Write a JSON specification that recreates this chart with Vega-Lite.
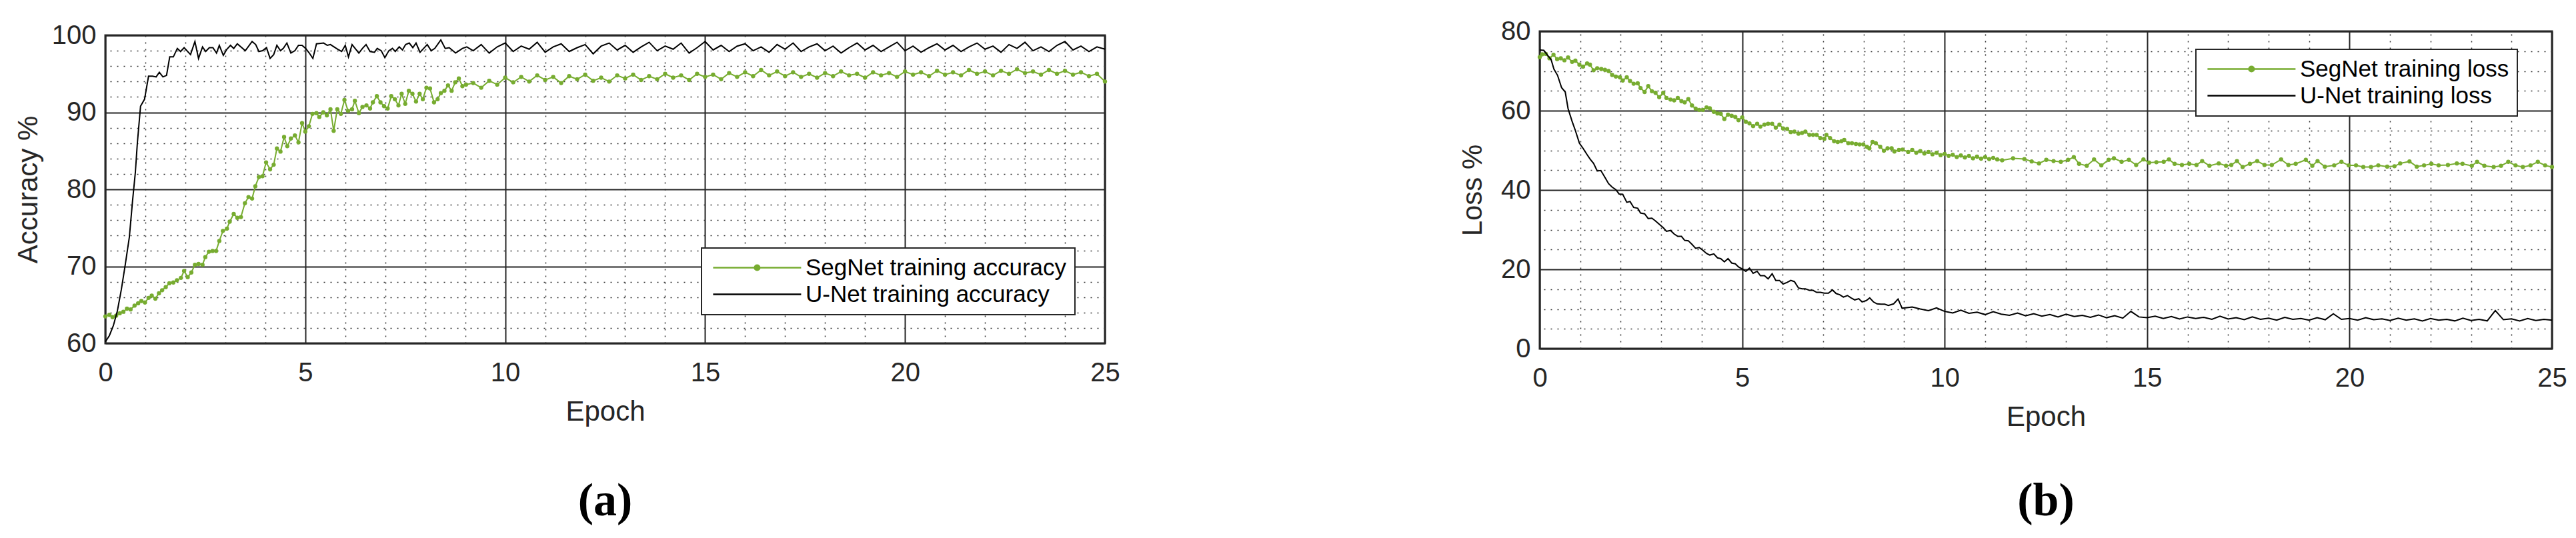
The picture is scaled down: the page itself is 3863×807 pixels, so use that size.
{
  "$schema": "https://vega.github.io/schema/vega-lite/v6.json",
  "background": "white",
  "padding": {"left": 19, "top": 25, "right": 0, "bottom": 0},
  "spacing": 505,
  "config": {
    "view": {"stroke": "#262626", "strokeWidth": 3},
    "font": "Liberation Sans",
    "axis": {"labelFont": "Liberation Sans", "labelFontSize": 40, "labelColor": "#262626", "titleFont": "Liberation Sans", "titleFontSize": 42, "titleFontWeight": "normal", "titleColor": "#262626", "labelFlush": false},
    "legend": {"labelFont": "Liberation Sans", "labelFontSize": 35, "labelColor": "#000000", "labelLimit": 0, "strokeColor": "#262626", "fillColor": "white", "padding": 12, "rowPadding": 4, "symbolType": "M-2.2,0H21.8", "symbolSize": 121, "symbolStrokeWidth": 2.5, "labelOffset": 109, "title": null}
  },
  "resolve": {"scale": {"color": "independent"}},
  "datasets": {
    "accSeg": [
      {"e":0,"v":63.5},{"e":0.1,"v":63.7},{"e":0.18,"v":63.4},{"e":0.27,"v":63.6},{"e":0.36,"v":63.9},{"e":0.45,"v":64.1},{"e":0.54,"v":64.5},{"e":0.63,"v":64.4},{"e":0.73,"v":64.9},{"e":0.82,"v":65.2},{"e":0.9,"v":65.5},{"e":0.99,"v":65.3},
      {"e":1.08,"v":65.9},{"e":1.16,"v":66.2},{"e":1.25,"v":65.8},{"e":1.34,"v":66.5},{"e":1.42,"v":66.9},{"e":1.51,"v":67.3},{"e":1.6,"v":67.8},{"e":1.7,"v":67.9},{"e":1.79,"v":68.2},{"e":1.89,"v":68.5},{"e":1.97,"v":69.4},
      {"e":2.06,"v":68.6},{"e":2.15,"v":69.2},{"e":2.24,"v":70.2},{"e":2.33,"v":70.3},{"e":2.43,"v":70.2},{"e":2.5,"v":71.2},{"e":2.59,"v":71.9},{"e":2.68,"v":72.0},{"e":2.77,"v":72.0},{"e":2.85,"v":73.3},{"e":2.94,"v":74.6},
      {"e":3.04,"v":74.9},{"e":3.11,"v":75.8},{"e":3.21,"v":76.8},{"e":3.3,"v":76.3},{"e":3.39,"v":76.4},{"e":3.49,"v":78.2},{"e":3.58,"v":79.0},{"e":3.67,"v":78.8},{"e":3.75,"v":80.4},{"e":3.84,"v":81.6},{"e":3.93,"v":81.7},
      {"e":4.02,"v":83.5},{"e":4.12,"v":82.6},{"e":4.21,"v":83.2},{"e":4.29,"v":85.3},{"e":4.38,"v":84.9},{"e":4.47,"v":86.8},{"e":4.55,"v":85.6},{"e":4.64,"v":86.6},{"e":4.74,"v":87.0},{"e":4.83,"v":86.1},{"e":4.92,"v":88.6},
      {"e":5.0,"v":87.5},{"e":5.09,"v":88.2},{"e":5.18,"v":89.8},{"e":5.28,"v":89.9},{"e":5.35,"v":89.4},{"e":5.45,"v":90.0},{"e":5.54,"v":89.6},{"e":5.63,"v":90.4},{"e":5.71,"v":87.6},{"e":5.8,"v":90.4},{"e":5.89,"v":89.8},{"e":5.98,"v":91.6},
      {"e":6.07,"v":90.2},{"e":6.17,"v":90.4},{"e":6.24,"v":91.5},{"e":6.34,"v":89.9},{"e":6.43,"v":90.7},{"e":6.53,"v":90.9},{"e":6.62,"v":90.5},{"e":6.69,"v":91.3},{"e":6.79,"v":92.1},{"e":6.88,"v":91.3},{"e":6.97,"v":90.8},
      {"e":7.06,"v":90.5},{"e":7.15,"v":92.1},{"e":7.24,"v":91.7},{"e":7.33,"v":90.9},{"e":7.41,"v":92.4},{"e":7.5,"v":91.1},{"e":7.59,"v":92.8},{"e":7.68,"v":92.4},{"e":7.77,"v":91.4},{"e":7.86,"v":92.4},{"e":7.94,"v":91.7},
      {"e":8.03,"v":93.2},{"e":8.12,"v":93.1},{"e":8.22,"v":91.3},{"e":8.31,"v":91.7},{"e":8.39,"v":92.5},{"e":8.48,"v":92.8},{"e":8.57,"v":93.5},{"e":8.66,"v":92.8},{"e":8.75,"v":93.9},{"e":8.84,"v":94.4},{"e":8.93,"v":93.4},{"e":9.02,"v":93.6},
      {"e":9.2,"v":93.8},{"e":9.4,"v":93.2},{"e":9.6,"v":94.1},{"e":9.8,"v":93.6},{"e":10.0,"v":94.5},{"e":10.2,"v":93.9},{"e":10.4,"v":94.6},{"e":10.6,"v":94.0},{"e":10.8,"v":94.8},{"e":11.0,"v":94.2},{"e":11.2,"v":94.6},{"e":11.4,"v":93.8},
      {"e":11.6,"v":94.7},{"e":11.8,"v":94.3},{"e":12.0,"v":94.9},{"e":12.2,"v":94.1},{"e":12.4,"v":94.5},{"e":12.6,"v":94.0},{"e":12.8,"v":94.8},{"e":13.0,"v":94.4},{"e":13.2,"v":94.9},{"e":13.4,"v":94.2},{"e":13.6,"v":94.7},{"e":13.8,"v":94.3},
      {"e":14.0,"v":95.0},{"e":14.2,"v":94.5},{"e":14.4,"v":94.8},{"e":14.6,"v":94.2},{"e":14.8,"v":95.0},{"e":15.0,"v":94.6},{"e":15.2,"v":94.9},{"e":15.4,"v":94.3},{"e":15.6,"v":95.1},{"e":15.8,"v":94.6},{"e":16.0,"v":95.2},{"e":16.2,"v":94.7},
      {"e":16.4,"v":95.5},{"e":16.6,"v":94.8},{"e":16.8,"v":95.3},{"e":17.0,"v":94.7},{"e":17.2,"v":95.2},{"e":17.4,"v":94.6},{"e":17.6,"v":95.0},{"e":17.8,"v":94.5},{"e":18.0,"v":95.1},{"e":18.2,"v":94.7},{"e":18.4,"v":95.3},{"e":18.6,"v":94.8},
      {"e":18.8,"v":95.0},{"e":19.0,"v":94.5},{"e":19.2,"v":95.2},{"e":19.4,"v":94.8},{"e":19.6,"v":95.1},{"e":19.8,"v":94.6},{"e":20.0,"v":95.3},{"e":20.2,"v":94.9},{"e":20.4,"v":95.2},{"e":20.6,"v":94.7},{"e":20.8,"v":95.4},{"e":21.0,"v":94.9},
      {"e":21.2,"v":95.2},{"e":21.4,"v":94.8},{"e":21.6,"v":95.5},{"e":21.8,"v":95.0},{"e":22.0,"v":95.3},{"e":22.2,"v":94.8},{"e":22.4,"v":95.4},{"e":22.6,"v":95.0},{"e":22.8,"v":95.6},{"e":23.0,"v":95.1},{"e":23.2,"v":95.3},{"e":23.4,"v":94.9},
      {"e":23.6,"v":95.5},{"e":23.8,"v":95.0},{"e":24.0,"v":95.4},{"e":24.2,"v":94.9},{"e":24.4,"v":95.2},{"e":24.6,"v":94.7},{"e":24.8,"v":95.0},{"e":25.0,"v":94.0}
    ],
    "accUnet": [
      {"e":0,"v":60.2},{"e":0.1,"v":61.0},{"e":0.2,"v":62.3},{"e":0.3,"v":64.2},{"e":0.4,"v":67.0},{"e":0.5,"v":70.3},{"e":0.6,"v":73.8},{"e":0.68,"v":78.5},{"e":0.75,"v":82.2},{"e":0.8,"v":86.0},{"e":0.88,"v":90.8},{"e":0.98,"v":91.7},
      {"e":1.08,"v":94.7},{"e":1.18,"v":94.7},{"e":1.27,"v":94.6},{"e":1.35,"v":95.2},{"e":1.44,"v":94.6},{"e":1.53,"v":94.8},{"e":1.61,"v":97.2},{"e":1.7,"v":97.2},{"e":1.8,"v":98.3},{"e":1.88,"v":97.9},{"e":1.97,"v":98.4},
      {"e":2.13,"v":97.5},{"e":2.24,"v":99.2},{"e":2.33,"v":97.0},{"e":2.43,"v":98.5},{"e":2.51,"v":97.9},{"e":2.6,"v":98.4},{"e":2.69,"v":98.4},{"e":2.78,"v":97.7},{"e":2.85,"v":98.7},{"e":2.95,"v":97.4},
      {"e":3.04,"v":98.2},{"e":3.13,"v":98.7},{"e":3.21,"v":98.3},{"e":3.3,"v":98.9},{"e":3.5,"v":98.0},{"e":3.67,"v":99.2},{"e":3.76,"v":98.8},{"e":3.84,"v":97.9},{"e":3.93,"v":98.0},
      {"e":4.03,"v":98.4},{"e":4.12,"v":97.0},{"e":4.21,"v":97.5},{"e":4.29,"v":98.7},{"e":4.38,"v":98.0},{"e":4.45,"v":98.3},{"e":4.54,"v":99.0},{"e":4.64,"v":97.7},{"e":4.74,"v":98.0},{"e":4.83,"v":98.7},{"e":4.92,"v":98.7},
      {"e":5.01,"v":98.3},{"e":5.1,"v":97.7},{"e":5.19,"v":97.0},{"e":5.28,"v":98.9},{"e":5.46,"v":99.0},{"e":5.55,"v":98.7},{"e":5.63,"v":98.8},{"e":5.81,"v":98.2},{"e":5.91,"v":97.9},
      {"e":6.0,"v":98.7},{"e":6.08,"v":97.2},{"e":6.17,"v":98.8},{"e":6.34,"v":97.7},{"e":6.43,"v":98.3},{"e":6.52,"v":98.8},{"e":6.62,"v":97.9},{"e":6.73,"v":97.8},{"e":6.8,"v":98.3},{"e":6.9,"v":98.0},{"e":6.99,"v":97.1},
      {"e":7.09,"v":98.0},{"e":7.18,"v":98.3},{"e":7.25,"v":97.9},{"e":7.35,"v":98.5},{"e":7.43,"v":98.1},{"e":7.51,"v":98.8},{"e":7.6,"v":99.0},{"e":7.69,"v":98.4},{"e":7.77,"v":99.0},{"e":7.87,"v":97.8},{"e":7.96,"v":98.3},
      {"e":8.05,"v":98.8},{"e":8.15,"v":98.0},{"e":8.24,"v":98.3},{"e":8.39,"v":99.4},{"e":8.5,"v":98.3},{"e":8.6,"v":98.4},{"e":8.76,"v":97.7},{"e":8.93,"v":98.3},{"e":9.04,"v":98.5},
      {"e":9.2,"v":98.0},{"e":9.4,"v":98.8},{"e":9.6,"v":97.7},{"e":9.8,"v":98.5},{"e":10.0,"v":99.0},{"e":10.2,"v":97.9},{"e":10.4,"v":98.6},{"e":10.6,"v":98.2},{"e":10.8,"v":99.1},{"e":11.0,"v":97.8},{"e":11.2,"v":98.5},{"e":11.4,"v":98.9},
      {"e":11.6,"v":97.9},{"e":11.8,"v":98.4},{"e":12.0,"v":98.8},{"e":12.2,"v":97.6},{"e":12.4,"v":98.6},{"e":12.6,"v":99.0},{"e":12.8,"v":98.1},{"e":13.0,"v":98.7},{"e":13.2,"v":97.8},{"e":13.4,"v":98.5},{"e":13.6,"v":99.1},{"e":13.8,"v":98.0},
      {"e":14.0,"v":98.6},{"e":14.2,"v":98.2},{"e":14.4,"v":99.0},{"e":14.6,"v":97.7},{"e":14.8,"v":98.4},{"e":15.0,"v":99.2},{"e":15.2,"v":98.1},{"e":15.4,"v":98.7},{"e":15.6,"v":97.9},{"e":15.8,"v":98.6},{"e":16.0,"v":98.9},{"e":16.2,"v":98.0},
      {"e":16.4,"v":98.5},{"e":16.6,"v":97.8},{"e":16.8,"v":98.8},{"e":17.0,"v":98.2},{"e":17.2,"v":99.0},{"e":17.4,"v":97.9},{"e":17.6,"v":98.5},{"e":17.8,"v":98.9},{"e":18.0,"v":98.0},{"e":18.2,"v":98.6},{"e":18.4,"v":97.7},{"e":18.6,"v":98.4},
      {"e":18.8,"v":99.0},{"e":19.0,"v":98.1},{"e":19.2,"v":98.7},{"e":19.4,"v":97.9},{"e":19.6,"v":98.5},{"e":19.8,"v":99.1},{"e":20.0,"v":98.0},{"e":20.2,"v":98.6},{"e":20.4,"v":97.8},{"e":20.6,"v":98.4},{"e":20.8,"v":98.9},{"e":21.0,"v":98.1},
      {"e":21.2,"v":98.7},{"e":21.4,"v":97.9},{"e":21.6,"v":98.5},{"e":21.8,"v":99.0},{"e":22.0,"v":98.2},{"e":22.2,"v":98.6},{"e":22.4,"v":97.8},{"e":22.6,"v":98.8},{"e":22.8,"v":98.3},{"e":23.0,"v":99.1},{"e":23.2,"v":98.0},{"e":23.4,"v":98.5},
      {"e":23.6,"v":97.9},{"e":23.8,"v":98.7},{"e":24.0,"v":99.2},{"e":24.2,"v":98.1},{"e":24.4,"v":98.6},{"e":24.6,"v":97.9},{"e":24.8,"v":98.5},{"e":25.0,"v":98.2}
    ],
    "lossSeg": [
      {"e":0,"v":73.5},{"e":0.06,"v":74.2},{"e":0.15,"v":74.3},{"e":0.24,"v":73.2},{"e":0.34,"v":74.1},{"e":0.43,"v":73.0},{"e":0.52,"v":73.2},{"e":0.61,"v":72.7},{"e":0.7,"v":73.4},{"e":0.8,"v":72.3},{"e":0.88,"v":72.6},{"e":0.98,"v":71.6},
      {"e":1.07,"v":71.1},{"e":1.17,"v":71.9},{"e":1.24,"v":71.6},{"e":1.33,"v":70.2},{"e":1.42,"v":70.7},{"e":1.52,"v":70.5},{"e":1.61,"v":70.3},{"e":1.7,"v":70.0},{"e":1.79,"v":69.0},{"e":1.88,"v":68.6},{"e":1.98,"v":68.4},
      {"e":2.05,"v":67.6},{"e":2.15,"v":68.4},{"e":2.23,"v":67.5},{"e":2.32,"v":66.8},{"e":2.42,"v":66.9},{"e":2.49,"v":65.7},{"e":2.59,"v":64.7},{"e":2.68,"v":66.2},{"e":2.77,"v":64.9},{"e":2.86,"v":64.5},{"e":2.95,"v":63.4},
      {"e":3.05,"v":64.5},{"e":3.13,"v":63.2},{"e":3.23,"v":62.8},{"e":3.32,"v":62.6},{"e":3.41,"v":63.2},{"e":3.5,"v":62.4},{"e":3.58,"v":62.1},{"e":3.67,"v":62.9},{"e":3.76,"v":61.3},{"e":3.85,"v":60.5},{"e":3.94,"v":60.2},
      {"e":4.03,"v":60.2},{"e":4.12,"v":60.8},{"e":4.2,"v":60.6},{"e":4.3,"v":59.7},{"e":4.39,"v":59.3},{"e":4.47,"v":59.2},{"e":4.56,"v":57.9},{"e":4.65,"v":59.0},{"e":4.74,"v":58.7},{"e":4.83,"v":58.4},{"e":4.91,"v":57.6},
      {"e":5.0,"v":58.3},{"e":5.09,"v":57.2},{"e":5.18,"v":56.8},{"e":5.27,"v":56.1},{"e":5.37,"v":56.7},{"e":5.45,"v":56.0},{"e":5.55,"v":56.5},{"e":5.64,"v":56.7},{"e":5.74,"v":56.7},{"e":5.83,"v":55.7},{"e":5.92,"v":56.5},
      {"e":6.01,"v":55.5},{"e":6.11,"v":55.4},{"e":6.2,"v":54.6},{"e":6.29,"v":54.7},{"e":6.39,"v":54.2},{"e":6.48,"v":54.4},{"e":6.56,"v":54.7},{"e":6.66,"v":53.9},{"e":6.75,"v":53.9},{"e":6.84,"v":53.9},{"e":6.93,"v":53.1},
      {"e":7.03,"v":52.9},{"e":7.08,"v":53.9},{"e":7.17,"v":53.1},{"e":7.27,"v":52.3},{"e":7.36,"v":52.1},{"e":7.45,"v":52.3},{"e":7.52,"v":52.6},{"e":7.62,"v":51.8},{"e":7.71,"v":51.8},{"e":7.81,"v":51.6},{"e":7.9,"v":51.5},{"e":7.99,"v":51.5},
      {"e":8.08,"v":50.9},{"e":8.14,"v":50.5},{"e":8.22,"v":52.1},{"e":8.3,"v":51.8},{"e":8.41,"v":50.9},{"e":8.5,"v":49.9},{"e":8.59,"v":50.5},{"e":8.69,"v":50.5},{"e":8.76,"v":49.7},{"e":8.87,"v":50.1},{"e":8.96,"v":50.2},
      {"e":9.1,"v":49.6},{"e":9.2,"v":50.1},{"e":9.3,"v":49.4},{"e":9.4,"v":49.8},{"e":9.5,"v":49.2},{"e":9.6,"v":49.6},{"e":9.7,"v":49.0},{"e":9.8,"v":49.4},{"e":9.9,"v":48.8},{"e":10.0,"v":49.1},{"e":10.1,"v":48.6},{"e":10.2,"v":48.9},
      {"e":10.3,"v":48.3},{"e":10.4,"v":48.7},{"e":10.5,"v":48.2},{"e":10.6,"v":48.6},{"e":10.7,"v":48.0},{"e":10.8,"v":48.4},{"e":10.9,"v":47.9},{"e":11.0,"v":48.3},{"e":11.1,"v":47.8},{"e":11.2,"v":48.1},{"e":11.3,"v":47.7},
      {"e":11.42,"v":47.5},{"e":11.69,"v":48.0},{"e":11.97,"v":47.8},{"e":12.15,"v":47.2},{"e":12.33,"v":46.7},{"e":12.51,"v":47.6},{"e":12.69,"v":47.3},{"e":12.87,"v":47.1},{"e":13.05,"v":47.6},{"e":13.19,"v":48.3},{"e":13.32,"v":46.6},
      {"e":13.51,"v":46.1},{"e":13.69,"v":47.7},{"e":13.87,"v":46.2},{"e":14.05,"v":47.6},{"e":14.18,"v":48.0},{"e":14.37,"v":47.1},{"e":14.55,"v":47.6},{"e":14.73,"v":46.3},{"e":14.91,"v":47.7},{"e":15.05,"v":46.9},{"e":15.23,"v":47.0},
      {"e":15.41,"v":47.1},{"e":15.54,"v":47.7},{"e":15.68,"v":46.6},{"e":15.86,"v":46.3},{"e":16.04,"v":46.6},{"e":16.22,"v":46.3},{"e":16.36,"v":47.3},{"e":16.54,"v":46.1},{"e":16.77,"v":46.7},{"e":16.95,"v":46.1},{"e":17.08,"v":46.3},
      {"e":17.22,"v":47.3},{"e":17.36,"v":45.8},{"e":17.54,"v":46.6},{"e":17.72,"v":47.3},{"e":17.9,"v":46.3},{"e":18.08,"v":46.3},{"e":18.31,"v":47.7},{"e":18.49,"v":46.3},{"e":18.67,"v":46.6},{"e":18.92,"v":47.6},{"e":19.08,"v":46.1},
      {"e":19.21,"v":47.3},{"e":19.39,"v":45.9},{"e":19.62,"v":46.2},{"e":19.8,"v":47.1},{"e":19.98,"v":46.2},{"e":20.16,"v":46.2},{"e":20.34,"v":45.8},{"e":20.53,"v":45.8},{"e":20.71,"v":46.2},{"e":20.93,"v":45.9},{"e":21.11,"v":46.0},
      {"e":21.25,"v":46.7},{"e":21.48,"v":47.2},{"e":21.66,"v":45.9},{"e":21.84,"v":46.2},{"e":22.02,"v":46.6},{"e":22.2,"v":46.2},{"e":22.43,"v":46.3},{"e":22.65,"v":46.7},{"e":22.79,"v":46.6},{"e":23.02,"v":46.1},{"e":23.15,"v":47.1},
      {"e":23.33,"v":46.1},{"e":23.56,"v":45.8},{"e":23.74,"v":46.1},{"e":23.92,"v":47.1},{"e":24.1,"v":46.2},{"e":24.28,"v":45.8},{"e":24.47,"v":46.2},{"e":24.65,"v":47.1},{"e":24.83,"v":46.2},{"e":25.0,"v":45.8}
    ],
    "lossUnet": [
      {"e":0,"v":75.3},{"e":0.1,"v":75.2},{"e":0.19,"v":74.0},{"e":0.28,"v":72.9},{"e":0.35,"v":70.5},{"e":0.44,"v":68.9},{"e":0.54,"v":65.8},{"e":0.63,"v":64.7},{"e":0.7,"v":60.5},{"e":0.8,"v":57.3},{"e":0.88,"v":55.0},{"e":0.98,"v":51.8},
      {"e":1.07,"v":50.5},{"e":1.17,"v":48.9},{"e":1.25,"v":47.7},{"e":1.33,"v":46.7},{"e":1.42,"v":44.8},{"e":1.51,"v":44.9},{"e":1.61,"v":43.2},{"e":1.7,"v":41.6},{"e":1.79,"v":40.7},{"e":1.88,"v":40.1},{"e":1.96,"v":39.0},
      {"e":2.05,"v":38.9},{"e":2.15,"v":36.9},{"e":2.23,"v":37.1},{"e":2.32,"v":35.6},{"e":2.42,"v":35.4},{"e":2.49,"v":34.2},{"e":2.59,"v":34.0},{"e":2.68,"v":32.8},{"e":2.77,"v":32.9},{"e":2.86,"v":32.2},{"e":2.95,"v":31.4},
      {"e":3.05,"v":30.5},{"e":3.13,"v":29.6},{"e":3.23,"v":29.8},{"e":3.32,"v":28.9},{"e":3.41,"v":28.3},{"e":3.5,"v":28.3},{"e":3.58,"v":27.3},{"e":3.67,"v":27.2},{"e":3.76,"v":26.3},{"e":3.85,"v":25.3},{"e":3.94,"v":25.5},
      {"e":4.03,"v":24.8},{"e":4.12,"v":24.0},{"e":4.2,"v":23.6},{"e":4.3,"v":23.9},{"e":4.39,"v":22.9},{"e":4.47,"v":22.7},{"e":4.56,"v":21.9},{"e":4.65,"v":22.7},{"e":4.74,"v":21.6},{"e":4.83,"v":21.4},{"e":4.91,"v":20.6},
      {"e":5.0,"v":20.1},{"e":5.09,"v":19.5},{"e":5.18,"v":20.3},{"e":5.27,"v":19.0},{"e":5.37,"v":19.5},{"e":5.45,"v":18.4},{"e":5.55,"v":18.4},{"e":5.64,"v":17.6},{"e":5.74,"v":18.9},{"e":5.83,"v":17.2},{"e":5.92,"v":17.2},
      {"e":6.01,"v":16.3},{"e":6.11,"v":16.7},{"e":6.2,"v":17.2},{"e":6.29,"v":16.9},{"e":6.39,"v":15.3},{"e":6.48,"v":15.1},{"e":6.56,"v":15.1},{"e":6.66,"v":14.7},{"e":6.75,"v":14.7},{"e":6.84,"v":14.2},{"e":6.93,"v":14.2},
      {"e":7.03,"v":14.0},{"e":7.13,"v":14.0},{"e":7.23,"v":14.8},{"e":7.32,"v":13.9},{"e":7.41,"v":13.6},{"e":7.5,"v":13.0},{"e":7.6,"v":13.4},{"e":7.69,"v":12.8},{"e":7.78,"v":12.3},{"e":7.88,"v":12.6},{"e":7.96,"v":11.8},
      {"e":8.06,"v":12.1},{"e":8.15,"v":12.8},{"e":8.24,"v":11.8},{"e":8.33,"v":11.3},{"e":8.43,"v":11.2},{"e":8.52,"v":11.2},{"e":8.61,"v":10.9},{"e":8.74,"v":11.3},{"e":8.85,"v":12.5},{"e":8.95,"v":10.2},
      {"e":9.2,"v":10.5},{"e":9.4,"v":10.0},{"e":9.6,"v":9.6},{"e":9.8,"v":10.3},{"e":10.0,"v":9.4},{"e":10.2,"v":9.0},{"e":10.4,"v":9.7},{"e":10.6,"v":8.9},{"e":10.8,"v":9.2},{"e":11.0,"v":8.6},{"e":11.2,"v":9.3},{"e":11.4,"v":8.7},
      {"e":11.6,"v":8.4},{"e":11.8,"v":9.0},{"e":12.0,"v":8.3},{"e":12.2,"v":8.8},{"e":12.4,"v":8.2},{"e":12.6,"v":8.6},{"e":12.8,"v":8.0},{"e":13.0,"v":8.7},{"e":13.2,"v":8.1},{"e":13.4,"v":8.4},{"e":13.6,"v":7.9},{"e":13.8,"v":8.5},
      {"e":14.0,"v":7.8},{"e":14.2,"v":8.3},{"e":14.4,"v":7.7},{"e":14.6,"v":9.4},{"e":14.8,"v":8.0},{"e":15.0,"v":7.8},{"e":15.2,"v":8.2},{"e":15.4,"v":7.6},{"e":15.6,"v":8.1},{"e":15.8,"v":7.5},{"e":16.0,"v":8.0},{"e":16.2,"v":7.6},
      {"e":16.4,"v":7.9},{"e":16.6,"v":7.4},{"e":16.8,"v":8.2},{"e":17.0,"v":7.5},{"e":17.2,"v":7.8},{"e":17.4,"v":7.3},{"e":17.6,"v":8.0},{"e":17.8,"v":7.4},{"e":18.0,"v":7.7},{"e":18.2,"v":7.2},{"e":18.4,"v":7.9},{"e":18.6,"v":7.4},
      {"e":18.8,"v":7.6},{"e":19.0,"v":7.2},{"e":19.2,"v":7.8},{"e":19.4,"v":7.3},{"e":19.6,"v":8.8},{"e":19.8,"v":7.4},{"e":20.0,"v":7.6},{"e":20.2,"v":7.2},{"e":20.4,"v":7.8},{"e":20.6,"v":7.3},{"e":20.8,"v":7.5},{"e":21.0,"v":7.1},
      {"e":21.2,"v":7.7},{"e":21.4,"v":7.2},{"e":21.6,"v":7.5},{"e":21.8,"v":7.0},{"e":22.0,"v":7.6},{"e":22.2,"v":7.2},{"e":22.4,"v":7.4},{"e":22.6,"v":7.0},{"e":22.8,"v":7.7},{"e":23.0,"v":7.1},{"e":23.2,"v":7.4},{"e":23.4,"v":7.0},
      {"e":23.6,"v":9.6},{"e":23.8,"v":7.3},{"e":24.0,"v":7.5},{"e":24.2,"v":7.0},{"e":24.4,"v":7.6},{"e":24.6,"v":7.1},{"e":24.8,"v":7.4},{"e":25.0,"v":7.2}
    ]
  },
  "hconcat": [
    {
      "bounds": "flush",
      "spacing": 0,
      "vconcat": [
        {
          "width": 1499,
          "height": 6,
          "view": {"stroke": null, "fill": null},
          "data": {"values": []},
          "mark": {"type": "point", "opacity": 0},
          "encoding": {}
        },
        {
          "width": 1499,
          "height": 462,
          "title": {"text": "(a)", "orient": "bottom", "offset": 80, "fontSize": 70, "font": "Liberation Serif", "fontWeight": "bold", "color": "#000000"},
          "resolve": {"scale": {"x": "independent", "y": "independent"}},
          "layer": [
            {
              "data": {"name": "accUnet"},
              "mark": {"type": "line", "opacity": 0},
              "encoding": {
                "x": {"field": "e", "type": "quantitative", "scale": {"domain": [0, 25], "nice": false, "zero": false},
                      "axis": {"orient": "top", "values": [1,2,3,4,6,7,8,9,11,12,13,14,16,17,18,19,21,22,23,24], "grid": true, "gridDash": [2, 8], "gridColor": "#333333", "gridWidth": 1.5, "labels": false, "ticks": false, "domain": false, "title": null}},
                "y": {"field": "v", "type": "quantitative", "scale": {"domain": [60, 100], "nice": false, "zero": false},
                      "axis": {"orient": "right", "values": [62,64,66,68,72,74,76,78,82,84,86,88,92,94,96,98], "grid": true, "gridDash": [2, 8], "gridColor": "#333333", "gridWidth": 1.5, "labels": false, "ticks": false, "domain": false, "title": null}}
              }
            },
            {
              "layer": [
                {
                  "data": {"name": "accSeg"},
                  "mark": {"type": "line", "strokeWidth": 2, "point": {"filled": true, "size": 40}},
                  "encoding": {
                    "x": {"field": "e", "type": "quantitative", "scale": {"domain": [0, 25], "nice": false, "zero": false},
                          "axis": {"values": [0,5,10,15,20,25], "format": "d", "grid": true, "gridColor": "#262626", "gridWidth": 2, "domain": false, "ticks": false, "labelPadding": 24, "title": "Epoch", "titlePadding": 18}},
                    "y": {"field": "v", "type": "quantitative", "scale": {"domain": [60, 100], "nice": false, "zero": false},
                          "axis": {"values": [60,70,80,90,100], "format": "d", "grid": true, "gridColor": "#262626", "gridWidth": 2, "domain": false, "ticks": false, "labelPadding": 14, "title": "Accuracy %", "titlePadding": 13}},
                    "color": {"datum": "SegNet training accuracy",
                              "scale": {"domain": ["SegNet training accuracy", "U-Net training accuracy"], "range": ["#77AC30", "#000000"]},
                              "legend": {"orient": "none", "legendX": 894, "legendY": 325,
                                         "encode": {"symbols": {"update": {"shape": {"signal": "datum.value === 'SegNet training accuracy' ? 'M-2.2,0H21.8M10.5,0A0.7,0.7,0,1,1,9.1,0A0.7,0.7,0,1,1,10.5,0Z' : 'M-2.2,0H21.8'"}, "fill": {"value": "#77AC30"}, "strokeWidth": {"value": 2.5}}},
                                                    "legend": {"update": {"strokeWidth": {"value": 2}}}}}}
                  }
                },
                {
                  "data": {"name": "accUnet"},
                  "mark": {"type": "line", "strokeWidth": 2},
                  "encoding": {
                    "x": {"field": "e", "type": "quantitative"},
                    "y": {"field": "v", "type": "quantitative"},
                    "color": {"datum": "U-Net training accuracy"}
                  }
                }
              ]
            }
          ]
        }
      ]
    },
    {
      "width": 1518,
      "height": 476,
      "title": {"text": "(b)", "orient": "bottom", "offset": 72, "fontSize": 70, "font": "Liberation Serif", "fontWeight": "bold", "color": "#000000"},
      "resolve": {"scale": {"x": "independent", "y": "independent"}},
      "layer": [
        {
          "data": {"name": "lossUnet"},
          "mark": {"type": "line", "opacity": 0},
          "encoding": {
            "x": {"field": "e", "type": "quantitative", "scale": {"domain": [0, 25], "nice": false, "zero": false},
                  "axis": {"orient": "top", "values": [1,2,3,4,6,7,8,9,11,12,13,14,16,17,18,19,21,22,23,24], "grid": true, "gridDash": [2, 8], "gridColor": "#333333", "gridWidth": 1.5, "labels": false, "ticks": false, "domain": false, "title": null}},
            "y": {"field": "v", "type": "quantitative", "scale": {"domain": [0, 80], "nice": false, "zero": false},
                  "axis": {"orient": "right", "values": [5,10,15,25,30,35,45,50,55,65,70,75], "grid": true, "gridDash": [2, 8], "gridColor": "#333333", "gridWidth": 1.5, "labels": false, "ticks": false, "domain": false, "title": null}}
          }
        },
        {
          "layer": [
            {
              "data": {"name": "lossSeg"},
              "mark": {"type": "line", "strokeWidth": 2, "point": {"filled": true, "size": 40}},
              "encoding": {
                "x": {"field": "e", "type": "quantitative", "scale": {"domain": [0, 25], "nice": false, "zero": false},
                      "axis": {"values": [0,5,10,15,20,25], "format": "d", "grid": true, "gridColor": "#262626", "gridWidth": 2, "domain": false, "ticks": false, "labelPadding": 24, "title": "Epoch", "titlePadding": 18}},
                "y": {"field": "v", "type": "quantitative", "scale": {"domain": [0, 80], "nice": false, "zero": false},
                      "axis": {"values": [0,20,40,60,80], "format": "d", "grid": true, "gridColor": "#262626", "gridWidth": 2, "domain": false, "ticks": false, "labelPadding": 14, "title": "Loss %", "titlePadding": 20}},
                "color": {"datum": "SegNet training loss",
                          "scale": {"domain": ["SegNet training loss", "U-Net training loss"], "range": ["#77AC30", "#000000"]},
                          "legend": {"orient": "none", "legendX": 984, "legendY": 27,
                                     "encode": {"symbols": {"update": {"shape": {"signal": "datum.value === 'SegNet training loss' ? 'M-2.2,0H21.8M10.5,0A0.7,0.7,0,1,1,9.1,0A0.7,0.7,0,1,1,10.5,0Z' : 'M-2.2,0H21.8'"}, "fill": {"value": "#77AC30"}, "strokeWidth": {"value": 2.5}}},
                                                "legend": {"update": {"strokeWidth": {"value": 2}}}}}}
              }
            },
            {
              "data": {"name": "lossUnet"},
              "mark": {"type": "line", "strokeWidth": 2},
              "encoding": {
                "x": {"field": "e", "type": "quantitative"},
                "y": {"field": "v", "type": "quantitative"},
                "color": {"datum": "U-Net training loss"}
              }
            }
          ]
        }
      ]
    }
  ]
}
